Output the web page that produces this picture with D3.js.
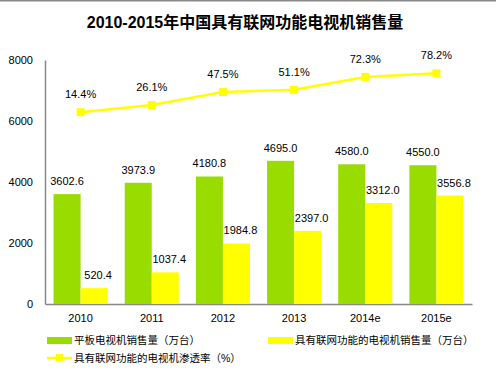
<!DOCTYPE html>
<html>
<head>
<meta charset="utf-8">
<script src="https://cdn.jsdelivr.net/npm/d3@7"></script>
<style>
  body { margin: 0; background: #fff; }
  svg text { font-family: "Liberation Sans", "Noto Sans CJK SC", sans-serif; fill: #000; }
</style>
</head>
<body>
<script>
// chart data
const years = ['2010', '2011', '2012', '2013', '2014e', '2015e']
const tvSales = [3602.6, 3973.9, 4180.8, 4695.0, 4580.0, 4550.0]
const netSales = [520.4, 1037.4, 1984.8, 2397.0, 3312.0, 3556.8]
const netRate = [14.4, 26.1, 47.5, 51.1, 72.3, 78.2]
const yTicks = [0, 2000, 4000, 6000, 8000]

const title = '2010-2015年中国具有联网功能电视机销售量'
const seriesNames = ['平板电视机销售量（万台）', '具有联网功能的电视机销售量（万台）', '具有联网功能的电视机渗透率（%）']

const green = '#99dd00'
const yellow = '#ffff00'

const width = 496
const height = 371

const svg = d3.select('body').append('svg')
  .attr('width', width)
  .attr('height', height)

// thin frame line at the very top
svg.append('line')
  .attr('x1', 0).attr('x2', width)
  .attr('y1', 0.5).attr('y2', 0.5)
  .attr('stroke', '#888').attr('stroke-width', 2)

svg.append('text')
  .attr('x', 245).attr('y', 28)
  .attr('text-anchor', 'middle')
  .style('font-size', '16px')
  .style('font-weight', 'bold')
  .text(title)

// scales
const x = d3.scaleBand()
  .domain(years)
  .range([45, 472])
  .paddingInner(0.24)
  .paddingOuter(0.12)

const sub = d3.scaleBand()
  .domain(['tv', 'net'])
  .range([0, x.bandwidth()])

const y = d3.scaleLinear().domain([0, 8000]).range([304, 60])
// hidden secondary axis for the percentage line
const y2 = d3.scaleLinear().domain([-300, 100]).range([304, 60])

// y axis
const yAxis = svg.append('g')
  .attr('transform', 'translate(45,0)')
  .call(d3.axisLeft(y).tickValues(yTicks).tickSize(0).tickPadding(12).tickFormat(d3.format('d')))
yAxis.select('.domain').attr('stroke', '#888').attr('stroke-width', 1.5)
yAxis.selectAll('text').style('font-size', '11px').style('font-family', '"Liberation Sans", sans-serif')

// x axis
const xAxis = svg.append('g')
  .attr('transform', 'translate(0,304)')
  .call(d3.axisBottom(x).tickSize(0).tickPadding(10))
xAxis.select('.domain').attr('stroke', '#888').attr('stroke-width', 1.5)
xAxis.selectAll('text').style('font-size', '11px').style('font-family', '"Liberation Sans", sans-serif')

// bars
const groups = svg.selectAll('.grp')
  .data(years)
  .enter().append('g')
  .attr('class', 'grp')
  .attr('transform', d => 'translate(' + x(d) + ',0)')

groups.append('rect')
  .attr('x', sub('tv'))
  .attr('width', sub.bandwidth())
  .attr('y', (d, i) => y(tvSales[i]))
  .attr('height', (d, i) => y(0) - y(tvSales[i]))
  .attr('fill', green)

groups.append('rect')
  .attr('x', sub('net'))
  .attr('width', sub.bandwidth())
  .attr('y', (d, i) => y(netSales[i]))
  .attr('height', (d, i) => y(0) - y(netSales[i]))
  .attr('fill', yellow)

groups.append('text')
  .attr('x', sub('tv') + sub.bandwidth() / 2)
  .attr('y', (d, i) => y(tvSales[i]) - 9)
  .attr('text-anchor', 'middle')
  .style('font-size', '11px')
  .text((d, i) => tvSales[i].toFixed(1))

groups.append('text')
  .attr('x', sub('net') + sub.bandwidth() / 2 + 4)
  .attr('y', (d, i) => y(netSales[i]) - 9)
  .attr('text-anchor', 'middle')
  .style('font-size', '11px')
  .text((d, i) => netSales[i].toFixed(1))

// penetration line
const cx = d => x(d) + x.bandwidth() / 2
const line = d3.line()
  .x((d, i) => cx(years[i]))
  .y(d => y2(d))

svg.append('path')
  .datum(netRate)
  .attr('d', line)
  .attr('fill', 'none')
  .attr('stroke', yellow)
  .attr('stroke-width', 2.5)

svg.selectAll('.mk')
  .data(netRate)
  .enter().append('rect')
  .attr('class', 'mk')
  .attr('x', (d, i) => cx(years[i]) - 4)
  .attr('y', d => y2(d) - 4)
  .attr('width', 8).attr('height', 8)
  .attr('fill', yellow)

svg.selectAll('.pl')
  .data(netRate)
  .enter().append('text')
  .attr('class', 'pl')
  .attr('x', (d, i) => cx(years[i]))
  .attr('y', d => y2(d) - 14)
  .attr('text-anchor', 'middle')
  .style('font-size', '11px')
  .text(d => d.toFixed(1) + '%')

// legend
const lg = svg.append('g').style('font-size', '10.5px')
lg.append('rect').attr('x', 47).attr('y', 337).attr('width', 25).attr('height', 7).attr('fill', green)
lg.append('text').attr('x', 74).attr('y', 344).text(seriesNames[0])
lg.append('rect').attr('x', 268).attr('y', 337).attr('width', 25).attr('height', 7).attr('fill', yellow)
lg.append('text').attr('x', 295).attr('y', 344).text(seriesNames[1])
lg.append('line').attr('x1', 47).attr('x2', 72).attr('y1', 358).attr('y2', 358)
  .attr('stroke', yellow).attr('stroke-width', 2.5)
lg.append('rect').attr('x', 56).attr('y', 354).attr('width', 7).attr('height', 7).attr('fill', yellow)
lg.append('text').attr('x', 74).attr('y', 362).text(seriesNames[2])
</script>
</body>
</html>
